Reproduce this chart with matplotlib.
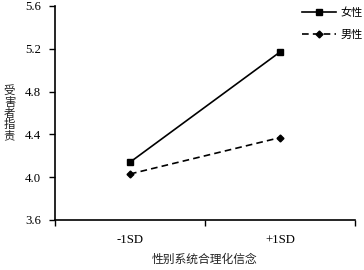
import matplotlib
matplotlib.use("Agg")
import matplotlib.pyplot as plt
from matplotlib.ticker import FixedLocator, NullFormatter

categories = ["-1SD", "+1SD"]
female = [4.14, 5.17]
male = [4.03, 4.37]
yticks = [3.6, 4.0, 4.4, 4.8, 5.2, 5.6]
series_labels = ["女性", "男性"]
xlabel = "性别系统合理化信念"
ylabel = "受害者指责"

serif = ["Liberation Serif", "Noto Sans CJK SC", "DejaVu Sans"]
cjk = ["Noto Sans CJK SC", "DejaVu Sans"]

fig = plt.figure(figsize=(3.64, 2.70), dpi=100)
ax = fig.add_axes([55/364, 50/270, 300/364, 214/270])

xs = [i + 0.5 for i in range(len(categories))]
ax.plot(xs, female, color="black", lw=1.2, ls="-", marker="s", ms=4.5, label=series_labels[0])
ax.plot(xs, male, color="black", lw=1.2, ls=(0, (4, 2.5)), marker="D", ms=3.5, label=series_labels[1])

ax.set_xlim(0, len(categories))
ax.set_ylim(yticks[0], yticks[-1])
ax.set_yticks(yticks)
ax.set_yticklabels([f"{v:.1f}" for v in yticks], fontfamily=serif, fontsize=9.2)
ax.xaxis.set_major_locator(FixedLocator(list(range(len(categories) + 1))))
ax.xaxis.set_major_formatter(NullFormatter())
ax.set_xticks(xs, minor=True)
ax.set_xticklabels(categories, minor=True, fontfamily=serif, fontsize=9.2)
ax.tick_params(axis="x", which="major", length=4, width=1, direction="out")
ax.tick_params(axis="x", which="minor", length=0, pad=10)
ax.tick_params(axis="y", length=4, width=1, direction="out", pad=6)

for s in ["top", "right"]:
    ax.spines[s].set_visible(False)
for s in ["left", "bottom"]:
    ax.spines[s].set_linewidth(1.2)

ax.set_xlabel(xlabel, fontfamily=cjk, fontsize=8.5, labelpad=5, color="#222222")
for i, ch in enumerate(ylabel):
    fig.text(9.5/364, 1 - (90.7 + i * 11.4)/270, ch, fontfamily=cjk, fontsize=8.2,
             ha="center", va="center", color="#222222")

leg = ax.legend(loc="upper right", bbox_to_anchor=(363/364, 1 - 7.5/270), bbox_transform=fig.transFigure,
                frameon=False, prop={"family": cjk, "size": 8}, handlelength=3.0,
                handletextpad=0.45, labelspacing=1.05, borderaxespad=0, borderpad=0)

fig.savefig("out.png", dpi=100)
